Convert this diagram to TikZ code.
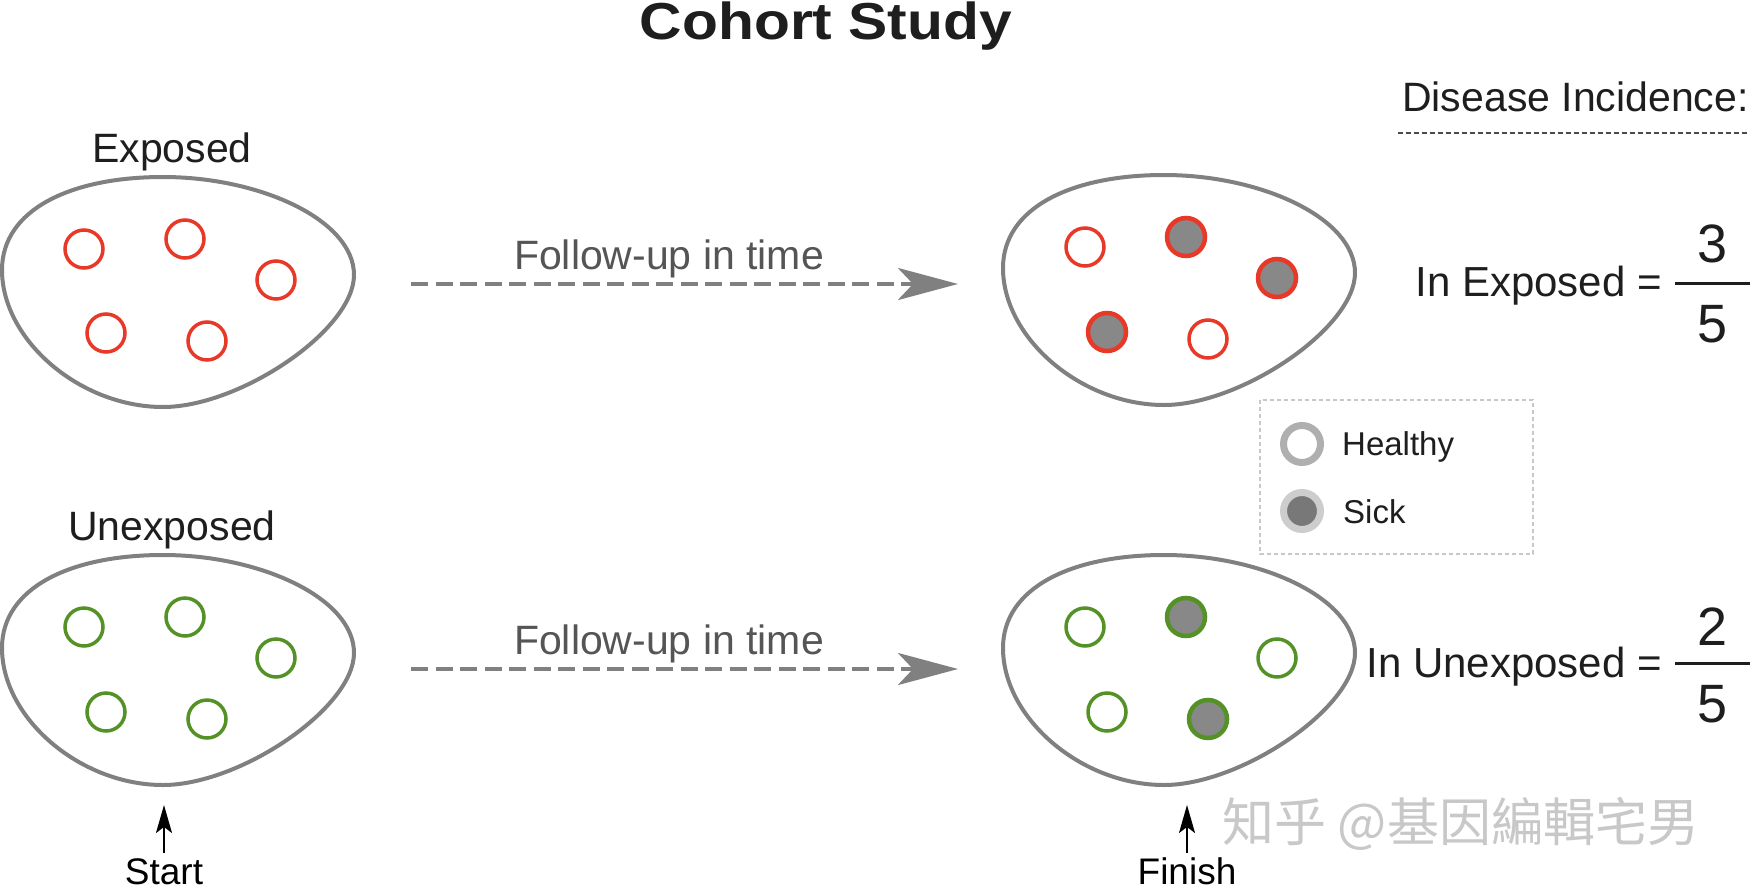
\documentclass[tikz,border=0pt]{standalone}
\usepackage{fontspec}
\setmainfont{Liberation Sans}
\newfontfamily\cjkfont{Noto Sans CJK SC}
\usepackage{graphicx}
\usetikzlibrary{arrows.meta}
\definecolor{eggc}{RGB}{128,128,128}
\definecolor{redc}{RGB}{232,56,40}
\definecolor{greenc}{RGB}{84,146,40}
\definecolor{sickc}{RGB}{136,136,136}
\definecolor{txtc}{RGB}{30,30,30}
\definecolor{folc}{RGB}{85,85,85}
\definecolor{legc}{RGB}{200,200,200}
\definecolor{wmc}{RGB}{200,200,200}
\definecolor{healc}{RGB}{175,175,175}
\definecolor{sickring}{RGB}{205,205,205}
\definecolor{sickin}{RGB}{120,120,120}
\tikzset{
  egg/.style={draw=eggc, line width=4pt},
  pt/.style={circle, minimum size=38pt, inner sep=0pt, line width=3.5pt, fill=white},
  redpt/.style={pt, draw=redc},
  greenpt/.style={pt, draw=greenc},
  sickpt/.style={fill=sickc, line width=4.5pt},
  lbl/.style={font=\fontsize{41}{48}\selectfont, text=txtc, anchor=base, inner sep=0pt},
  follow/.style={font=\fontsize{41}{48}\selectfont, text=folc, anchor=base, inner sep=0pt},
  folarrow/.style={draw=eggc, line width=4pt, dash pattern=on 17pt off 7.5pt,
     -{Stealth[length=60pt, width=32pt, inset=15pt, fill=eggc]}},
  timearrow/.style={draw=black, line width=2pt, -{Stealth[length=28pt, width=16pt, inset=6pt]}},
  eq/.style={font=\fontsize{42}{48}\selectfont, text=txtc, anchor=base east, inner sep=0pt},
  num/.style={font=\fontsize{54}{60}\selectfont, text=txtc, anchor=base, inner sep=0pt},
  fracbar/.style={draw=txtc, line width=3pt},
  legtxt/.style={font=\fontsize{33}{40}\selectfont, text=txtc, anchor=base west, inner sep=0pt},
  endlbl/.style={font=\fontsize{37}{44}\selectfont, text=black, anchor=base, inner sep=0pt},
}
\begin{document}
\begin{tikzpicture}[x=1pt, y=-1pt]
\useasboundingbox (0,0) rectangle (1750,891);
\fill[white] (0,0) rectangle (1750,891);

% title
\node[font=\bfseries\fontsize{52}{60}\selectfont, text=txtc, anchor=base, inner sep=0pt] (title) at (826,40) {\scalebox{1.13}[1]{Cohort Study}};

% eggs
\foreach \dx/\dy in {0/0, 1001/-2, 0/378, 1001/378} {
  \begin{scope}[shift={(\dx,\dy)}]
    \draw[egg] (163,177) .. controls (260,177) and (354,220) .. (354,275)
      .. controls (354,330) and (240,407) .. (163,407)
      .. controls (80,407) and (2,340) .. (2,270)
      .. controls (2,210) and (70,177) .. (163,177) -- cycle;
  \end{scope}
}

% labels
\node[lbl] (exp) at (172,162) {Exposed};
\node[lbl] (unexp) at (172,540) {Unexposed};

% top-left circles
\node[redpt] (a1) at (84,249) {};
\node[redpt] (a2) at (185,239) {};
\node[redpt] (a3) at (276,280) {};
\node[redpt] (a4) at (106,333) {};
\node[redpt] (a5) at (207,341) {};
% top-right circles
\node[redpt] (b1) at (1085,247) {};
\node[redpt, sickpt] (b2) at (1186,237) {};
\node[redpt, sickpt] (b3) at (1277,278) {};
\node[redpt, sickpt] (b4) at (1107,332) {};
\node[redpt] (b5) at (1208,339) {};
% bottom-left circles
\node[greenpt] (c1) at (84,627) {};
\node[greenpt] (c2) at (185,617) {};
\node[greenpt] (c3) at (276,658) {};
\node[greenpt] (c4) at (106,712) {};
\node[greenpt] (c5) at (207,719) {};
% bottom-right circles
\node[greenpt] (d1) at (1085,627) {};
\node[greenpt, sickpt] (d2) at (1186,617) {};
\node[greenpt] (d3) at (1277,658) {};
\node[greenpt] (d4) at (1107,712) {};
\node[greenpt, sickpt] (d5) at (1208,719) {};

% follow-up arrows
\coordinate (fa1) at (411,284);
\coordinate (fb1) at (958,284);
\coordinate (fa2) at (411,669);
\coordinate (fb2) at (958,669);
\draw[folarrow] (fa1) -- (fb1);
\draw[folarrow] (fa2) -- (fb2);
\node[follow] (f1) at (669,269) {Follow-up in time};
\node[follow] (f2) at (669,654) {Follow-up in time};

% start / finish
\coordinate (s0) at (164,853);
\coordinate (s1) at (164,805);
\coordinate (g0) at (1187,853);
\coordinate (g1) at (1187,805);
\draw[timearrow] (s0) -- (s1);
\draw[timearrow] (g0) -- (g1);
\node[endlbl] (start) at (164,884) {Start};
\node[endlbl] (finish) at (1187,884) {Finish};

% disease incidence
\node[font=\fontsize{41}{48}\selectfont, text=txtc, anchor=base west, inner sep=0pt] (di) at (1402,111) {Disease Incidence:};
\coordinate (dl0) at (1398,133);
\coordinate (dl1) at (1752,133);
\draw[draw=txtc!80, line width=1.5pt, dash pattern=on 5pt off 3pt] (dl0) -- (dl1);

\node[eq] (ine) at (1662,296) {In Exposed =};
\coordinate (fr0) at (1675,283);
\coordinate (fr1) at (1752,283);
\draw[fracbar] (fr0) -- (fr1);
\node[num] (n3) at (1712,262) {3};
\node[num] (n5a) at (1712,342) {5};

\node[eq] (inu) at (1662,677) {In Unexposed =};
\coordinate (fu0) at (1675,663);
\coordinate (fu1) at (1752,663);
\draw[fracbar] (fu0) -- (fu1);
\node[num] (n2) at (1712,645) {2};
\node[num] (n5b) at (1712,722) {5};

% legend
\draw[draw=legc, line width=1.5pt, dash pattern=on 4pt off 3pt] (1260,400) rectangle (1533,554);
\node[circle, minimum size=37pt, inner sep=0pt, line width=7pt, draw=healc, fill=white] (lh) at (1302,444) {};
\node[circle, minimum size=37pt, inner sep=0pt, line width=7pt, draw=sickring, fill=sickin] (ls) at (1302,511) {};
\node[legtxt] (th) at (1342,455) {Healthy};
\node[legtxt] (ts) at (1343,523) {Sick};

% watermark
\node[font=\cjkfont\fontsize{52}{58}\selectfont, text=wmc, anchor=west, inner sep=0pt] (wm) at (1222,824) {知乎 @基因編輯宅男};
\end{tikzpicture}
\end{document}
